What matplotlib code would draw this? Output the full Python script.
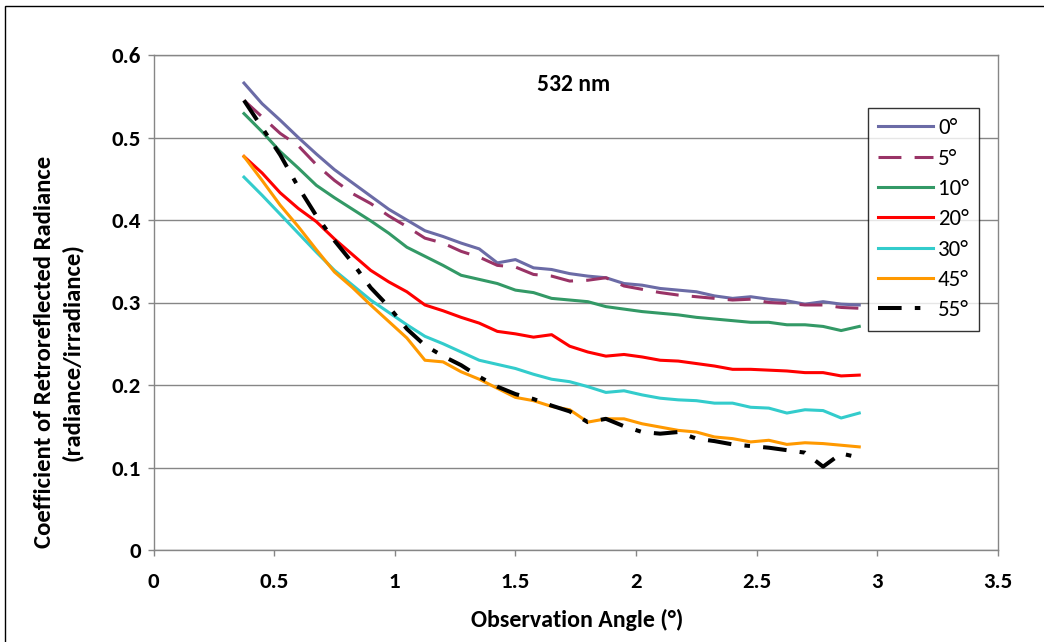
import matplotlib
matplotlib.use("Agg")
import matplotlib.pyplot as plt
from matplotlib.patches import Rectangle

plt.rcParams['font.family'] = ['Carlito', 'Lato', 'DejaVu Sans']
plt.rcParams['font.weight'] = 'bold'
plt.rcParams['lines.scale_dashes'] = False

obs_angle = [0.375, 0.45, 0.525, 0.6, 0.675, 0.75, 0.825, 0.9, 0.975, 1.05,
             1.125, 1.2, 1.275, 1.35, 1.425, 1.5, 1.575, 1.65, 1.725, 1.8,
             1.875, 1.95, 2.025, 2.1, 2.175, 2.25, 2.325, 2.4, 2.475, 2.55,
             2.625, 2.7, 2.775, 2.85, 2.925]

r_0 = [0.566, 0.541, 0.521, 0.500, 0.480, 0.461, 0.445, 0.429, 0.413, 0.400,
       0.387, 0.380, 0.372, 0.365, 0.348, 0.352, 0.342, 0.340, 0.335, 0.332,
       0.330, 0.323, 0.321, 0.317, 0.315, 0.313, 0.308, 0.305, 0.307, 0.304,
       0.302, 0.298, 0.301, 0.298, 0.297]
r_5 = [0.545, 0.525, 0.505, 0.490, 0.467, 0.448, 0.432, 0.420, 0.405, 0.392,
       0.378, 0.372, 0.362, 0.355, 0.345, 0.343, 0.334, 0.332, 0.326, 0.327,
       0.330, 0.320, 0.316, 0.312, 0.309, 0.307, 0.305, 0.303, 0.304, 0.300,
       0.299, 0.297, 0.297, 0.294, 0.293]
r_10 = [0.529, 0.507, 0.483, 0.463, 0.442, 0.427, 0.413, 0.399, 0.384, 0.367,
        0.356, 0.345, 0.333, 0.328, 0.323, 0.315, 0.312, 0.305, 0.303, 0.301,
        0.295, 0.292, 0.289, 0.287, 0.285, 0.282, 0.280, 0.278, 0.276, 0.276,
        0.273, 0.273, 0.271, 0.266, 0.271]
r_20 = [0.477, 0.457, 0.433, 0.414, 0.398, 0.377, 0.358, 0.339, 0.325, 0.313,
        0.297, 0.290, 0.282, 0.275, 0.265, 0.262, 0.258, 0.261, 0.247, 0.240,
        0.235, 0.237, 0.234, 0.230, 0.229, 0.226, 0.223, 0.219, 0.219, 0.218,
        0.217, 0.215, 0.215, 0.211, 0.212]
r_30 = [0.452, 0.430, 0.407, 0.384, 0.361, 0.339, 0.321, 0.303, 0.288, 0.273,
        0.259, 0.250, 0.240, 0.230, 0.225, 0.220, 0.213, 0.207, 0.204, 0.198,
        0.191, 0.193, 0.188, 0.184, 0.182, 0.181, 0.178, 0.178, 0.173, 0.172,
        0.166, 0.170, 0.169, 0.160, 0.166]
r_45 = [0.477, 0.448, 0.418, 0.392, 0.364, 0.337, 0.318, 0.297, 0.277, 0.257,
        0.230, 0.228, 0.216, 0.207, 0.196, 0.185, 0.181, 0.174, 0.170, 0.155,
        0.159, 0.159, 0.153, 0.149, 0.145, 0.143, 0.137, 0.135, 0.131, 0.133,
        0.128, 0.130, 0.129, 0.127, 0.125]
r_55 = [0.545, 0.512, 0.479, 0.440, 0.405, 0.375, 0.348, 0.318, 0.295, 0.268,
        0.248, 0.235, 0.224, 0.210, 0.198, 0.189, 0.183, 0.175, 0.168, 0.155,
        0.159, 0.150, 0.143, 0.141, 0.143, 0.135, 0.132, 0.128, 0.126, 0.124,
        0.121, 0.118, 0.101, 0.117, 0.112]

series_labels = ['0°', '5°', '10°', '20°', '30°', '45°', '55°']
x_ticks = [0, 0.5, 1, 1.5, 2, 2.5, 3, 3.5]
x_ticklabels = ['0', '0.5', '1', '1.5', '2', '2.5', '3', '3.5']
y_ticks = [0, 0.1, 0.2, 0.3, 0.4, 0.5, 0.6]
y_ticklabels = ['0', '0.1', '0.2', '0.3', '0.4', '0.5', '0.6']

fig = plt.figure(figsize=(10.44, 6.42), dpi=100)
ax = fig.add_axes([153.5/1044, 1-550/642, (998-153.5)/1044, 495/642])

# outer chart border
fig.patches.append(Rectangle((5/1044, -0.1), 1.2, 1 - 6/642 + 0.1, transform=fig.transFigure,
                             fill=False, edgecolor='#000000', linewidth=1.0))

grey = '#868686'
lw = 2.2
ax.plot(obs_angle, r_0, color='#6B6BA6', lw=lw, label=series_labels[0], zorder=3)
ax.plot(obs_angle, r_5, color='#993366', lw=lw, dashes=(16.5, 9.5), label=series_labels[1], zorder=3)
ax.plot(obs_angle, r_10, color='#339966', lw=lw, label=series_labels[2], zorder=3)
ax.plot(obs_angle, r_20, color='#FF0000', lw=lw, label=series_labels[3], zorder=3)
ax.plot(obs_angle, r_30, color='#33CCCC', lw=lw, label=series_labels[4], zorder=3)
ax.plot(obs_angle, r_45, color='#FF9900', lw=lw, label=series_labels[5], zorder=3)
ax.plot(obs_angle, r_55, color='#000000', lw=2.9, dashes=(17, 9.5, 4, 9.5), label=series_labels[6], zorder=4)

ax.set_xlim(0, 3.5)
ax.set_ylim(0, 0.6)
ax.set_xticks(x_ticks)
ax.set_xticklabels(x_ticklabels)
ax.set_yticks(y_ticks)
ax.set_yticklabels(y_ticklabels)
ax.yaxis.grid(True, color=grey, lw=1.0)
ax.set_axisbelow(True)
for s in ax.spines.values():
    s.set_color(grey)
    s.set_linewidth(1.0)
ax.tick_params(axis='both', direction='out', length=4, width=1.0, color=grey,
               labelsize=16.5)
ax.tick_params(axis='y', pad=5)
ax.tick_params(axis='x', pad=12)
for t in ax.get_xticklabels() + ax.get_yticklabels():
    t.set_fontweight('bold')

ax.text(1.74, 0.564, '532 nm', fontsize=17, fontweight='bold', ha='center', va='center')

fig.text(577/1044, 1-620/642, 'Observation Angle (°)', fontsize=17.2, fontweight='bold',
         ha='center', va='center')
fig.text(45/1044, 1-352/642, 'Coefficient of Retroreflected Radiance', fontsize=17.8,
         fontweight='bold', ha='center', va='center', rotation=90)
fig.text(72/1044, 1-352/642, '(radiance/irradiance)', fontsize=17.8,
         fontweight='bold', ha='center', va='center', rotation=90)

leg = ax.legend(loc='upper left', bbox_to_anchor=((868-153.5)/844.5, (550-108)/495),
                borderaxespad=0, frameon=True, fancybox=False, edgecolor='#000000',
                prop={'size': 16.5, 'weight': 'normal'}, handlelength=2.4,
                labelspacing=0.45, handletextpad=0.2, borderpad=0.45)
leg.get_frame().set_linewidth(1.0)

fig.savefig('out.png', dpi=100)
